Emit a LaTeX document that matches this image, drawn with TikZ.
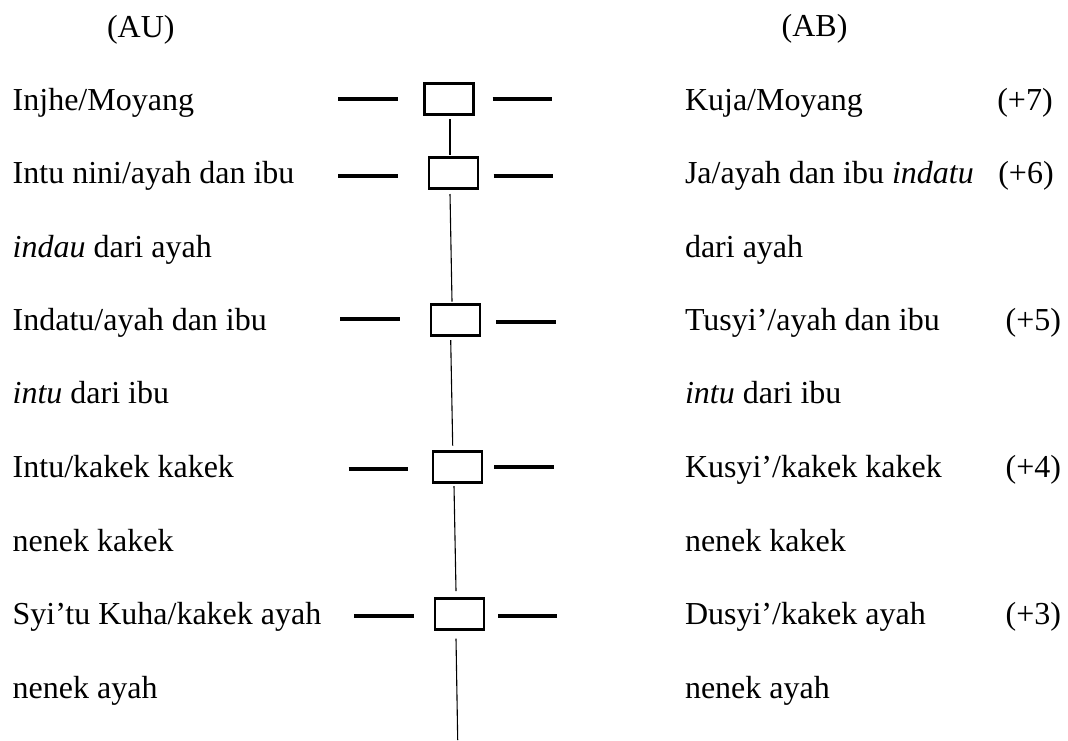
\documentclass[tikz,border=0pt]{standalone}
\usepackage{fontspec}
\setmainfont{Liberation Serif}
\begin{document}
\begin{tikzpicture}[x=0.5pt,y=-0.5pt,
  txt/.style={anchor=base west,inner sep=0pt,outer sep=0pt,font=\fontsize{16}{19}\selectfont},
  box/.style={draw,line width=1.3pt,minimum width=24.6pt,minimum height=15.5pt,inner sep=0pt,outer sep=0pt},
  bar/.style={line width=2pt},
  link/.style={line width=0.55pt}]
\useasboundingbox (0,0) rectangle (1068,740);
% headers
\node[txt] (hau) at (107,37.5) {(AU)};
\node[txt] (hab) at (781.7,36.5) {(AB)};
% left column
\node[txt] (l1) at (12.7,110) {Injhe/Moyang};
\node[txt] (l2) at (12.7,183.5) {Intu nini/ayah dan ibu};
\node[txt] (l3) at (12.7,257) {\textit{indau} dari ayah};
\node[txt] (l4) at (12.7,330) {Indatu/ayah dan ibu};
\node[txt] (l5) at (12.7,403.5) {\textit{intu} dari ibu};
\node[txt] (l6) at (12.7,477) {Intu/kakek kakek};
\node[txt] (l7) at (12.7,551) {nenek kakek};
\node[txt] (l8) at (12.7,624.5) {Syi’tu Kuha/kakek ayah};
\node[txt] (l9) at (12.7,698) {nenek ayah};
% right column
\node[txt] (r1) at (685,110) {Kuja/Moyang};
\node[txt] (r2) at (685,183.5) {Ja/ayah dan ibu \textit{indatu}};
\node[txt] (r3) at (685,257) {dari ayah};
\node[txt] (r4) at (685,330) {Tusyi’/ayah dan ibu};
\node[txt] (r5) at (685,403.5) {\textit{intu} dari ibu};
\node[txt] (r6) at (685,477) {Kusyi’/kakek kakek};
\node[txt] (r7) at (685,551) {nenek kakek};
\node[txt] (r8) at (685,624.5) {Dusyi’/kakek ayah};
\node[txt] (r9) at (685,698) {nenek ayah};
% numbers
\node[txt] (n7) at (997.3,110) {(+7)};
\node[txt] (n6) at (998.3,183.5) {(+6)};
\node[txt] (n5) at (1005.7,330) {(+5)};
\node[txt] (n4) at (1005.7,477) {(+4)};
\node[txt] (n3) at (1005.7,624.5) {(+3)};
% boxes
\node[box] (b1) at (449,98.8) {};
\node[box] (b2) at (453.5,172.7) {};
\node[box] (b3) at (455.5,319.8) {};
\node[box] (b4) at (457.5,467.2) {};
\node[box] (b5) at (459.5,614.2) {};
% side bars
\draw[bar] (338,99.3) -- (398,99.3);
\draw[bar] (492.7,99) -- (552,99);
\draw[bar] (338,175.7) -- (398,175.7);
\draw[bar] (493.7,176.3) -- (553.3,176.3);
\draw[bar] (340.3,319.3) -- (400,319.3);
\draw[bar] (496,321.7) -- (555.7,321.7);
\draw[bar] (348.7,469) -- (408.3,469);
\draw[bar] (494.3,466.7) -- (553.7,466.7);
\draw[bar] (354.3,616) -- (414,616);
\draw[bar] (498,616) -- (557.3,616);
% vertical links
\coordinate (bottom) at (457.7,740);
\draw[link] ([shift={(1,4.7)}]b1.south) -- ([shift={(-3.5,-2.2)}]b2.north);
\draw[link] ([shift={(-3.5,5.8)}]b2.south) -- ([shift={(-3.5,-2.6)}]b3.north);
\draw[link] ([shift={(-4.8,4.7)}]b3.south) -- ([shift={(-4.8,-6)}]b4.north);
\draw[link] ([shift={(-3.5,3.3)}]b4.south) -- ([shift={(-3.5,-7.7)}]b5.north);
\draw[link] ([shift={(-3.5,9)}]b5.south) -- (bottom);
\end{tikzpicture}
\end{document}
